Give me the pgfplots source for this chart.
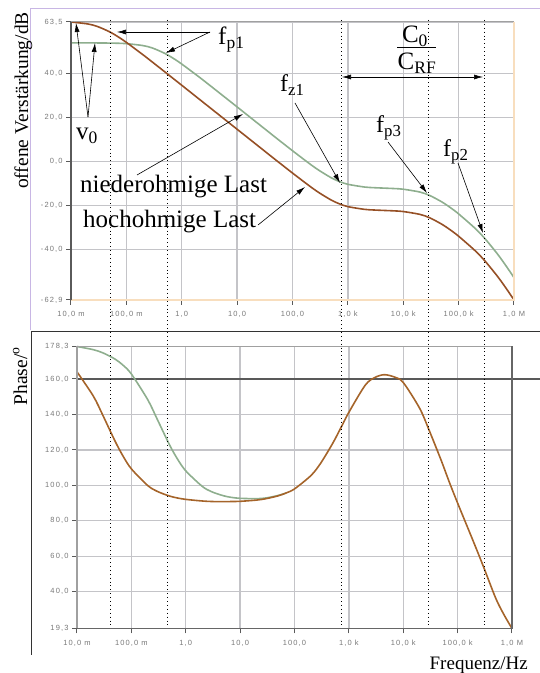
\documentclass[border=0pt]{standalone}
\usepackage{pgfplots}
\pgfplotsset{compat=1.18}
\usepackage{pgfplotstable}
\usetikzlibrary{arrows.meta}
\usepackage{fontspec}
\setmainfont{Liberation Serif}
\newfontfamily\tickfont[LetterSpace=15]{Liberation Sans}
\definecolor{cbrown}{RGB}{150,80,38}
\definecolor{cgreen}{RGB}{142,174,142}
\definecolor{cphase}{RGB}{165,100,42}
\definecolor{gridgray}{RGB}{196,196,200}
\definecolor{tickdark}{RGB}{90,90,90}
\definecolor{ticktext}{RGB}{120,120,120}
\definecolor{framepurple}{RGB}{200,182,228}
\definecolor{peach}{RGB}{248,222,190}
\definecolor{spinegray}{RGB}{160,160,160}

\pgfplotstableread{
f g
0.01 54.00
0.02 53.99
0.03 53.97
0.05 53.91
0.07 53.83
0.1 53.66
0.2 52.77
0.3 51.61
0.5 49.17
0.7 47.01
1 44.38
2 38.73
3 35.28
5 30.88
7 27.97
10 24.88
20 18.86
30 15.34
50 10.90
70 8.02
100 4.97
200 -0.80
300 -3.93
500 -7.31
700 -9.01
1000 -10.30
2000 -11.54
3000 -11.84
5000 -12.08
7000 -12.24
10000 -12.53
20000 -13.82
30000 -15.37
50000 -18.33
70000 -20.79
100000 -23.75
200000 -30.41
300000 -35.05
500000 -41.90
700000 -46.98
1000000 -52.70
}\gaingreen

\pgfplotstableread{
f g
0.01 63.50
0.02 62.62
0.03 61.46
0.05 59.02
0.07 56.86
0.1 54.23
0.2 48.58
0.3 45.13
0.5 40.73
0.7 37.82
1 34.73
2 28.71
3 25.19
5 20.75
7 17.83
10 14.73
20 8.71
30 5.19
50 0.75
70 -2.13
100 -5.18
200 -10.95
300 -14.08
500 -17.46
700 -19.16
1000 -20.45
2000 -21.69
3000 -21.99
5000 -22.23
7000 -22.39
10000 -22.68
20000 -23.97
30000 -25.52
50000 -28.48
70000 -30.94
100000 -33.90
200000 -40.56
300000 -45.20
500000 -52.05
700000 -57.13
1000000 -62.85
}\gainbrown

\pgfplotstableread{
f p
0.01 178.3
0.02 176.5
0.03 174.7
0.05 171.2
0.07 167.8
0.1 162.8
0.2 148.3
0.3 137.2
0.5 123.0
0.7 115.0
1 108.2
2 99.5
3 96.4
5 94.1
7 93.2
10 92.7
20 92.5
30 92.9
50 94.3
70 95.7
}\phasegreen

\pgfplotstableread{
f p
0.01 164.0
0.02 150.3
0.03 139.4
0.05 125.0
0.07 116.6
0.1 109.3
0.2 99.9
0.3 96.6
0.5 94.0
0.7 92.9
1 92.1
2 91.2
3 90.9
5 90.8
7 90.9
10 91.0
20 91.7
30 92.5
50 94.1
70 95.7
100 98.0
200 105.5
300 112.3
500 123.5
700 132.0
1000 141.2
2000 156.5
3000 160.8
4500 162.4
7000 161.0
10000 158.0
20000 143.5
30000 131.0
50000 114.0
70000 102.0
100000 90.0
200000 67.5
300000 54.0
500000 36.5
700000 27.5
1000000 19.3
}\phasebrown

\pgfplotsset{
  common/.style={
    scale only axis, anchor=south west,
    xmin=0.01, xmax=1e6,
    axis line style={draw=none},
    xtick={0.01,0.1,1,10,100,1000,10000,100000,1000000},
    xticklabels={{10,0 m},{100,0 m},{1,0},{10,0},{100,0},{1,0 k},{10,0 k},{100,0 k},{1,0 M}},
    xminorticks=false, yminorticks=false,
    tick align=outside, xtick pos=bottom, ytick pos=left,
    major tick length=5pt,
    tick style={draw=tickdark, line width=1pt},
    xmajorgrids=true, ymajorgrids=true,
    major grid style={draw=gridgray, line width=1.3pt},
    tick label style={font=\tickfont\fontsize{7.5}{9}\selectfont, text=ticktext},
    xticklabel style={yshift=-3pt},
    clip=false,
  }
}

\begin{document}
\begin{tikzpicture}[x=1pt,y=1pt]
\useasboundingbox (0,0) rectangle (540,673);
% panel frames
\draw[framepurple, line width=1pt] (540,664) -- (30,664) -- (30,343);
\draw[black!80, line width=1pt] (540,341) -- (31,341) -- (31,18);

% top axis: gain
\begin{axis}[xmode=log, common,
  at={(71pt,373pt)}, width=443pt, height=278pt,
  ymin=-62.9, ymax=63.5,
  ytick={-62.9,-40,-20,0,20,40,63.5},
  yticklabels={{-62,9},{-40,0},{-20,0},{0,0},{20,0},{40,0},{63,5}},
]
\addplot[cgreen, line width=1.6pt, smooth] table[x=f,y=g] {\gaingreen};
\addplot[cbrown, line width=1.6pt, smooth] table[x=f,y=g] {\gainbrown};
\draw[spinegray, line width=1pt] (rel axis cs:0,1) -- (rel axis cs:1,1);
\draw[peach, line width=1.4pt] (rel axis cs:1,1) -- (rel axis cs:1,0) -- (rel axis cs:0,0);
\draw[tickdark, line width=1.4pt] (rel axis cs:0,0) -- (rel axis cs:0,1);
\end{axis}

% bottom axis: phase
\begin{axis}[xmode=log, common,
  at={(77pt,44.5pt)}, width=435pt, height=282pt,
  ymin=19.3, ymax=178.3,
  ytick={19.3,40,60,80,100,120,140,160,178.3},
  yticklabels={{19,3},{40,0},{60,0},{80,0},{100,0},{120,0},{140,0},{160,0},{178,3}},
]
\draw[black!65, line width=1.2pt] (axis cs:0.01,160) -- (axis cs:1000000,160) -- ++(28pt,0pt);
\addplot[cgreen, line width=1.6pt, smooth] table[x=f,y=p] {\phasegreen};
\addplot[cphase, line width=1.6pt, smooth] table[x=f,y=p] {\phasebrown};
\draw[spinegray, line width=1.2pt] (rel axis cs:0,0) -- (rel axis cs:0,1) -- (rel axis cs:1,1);
\draw[black!60, line width=1.6pt] (rel axis cs:1,1) -- (rel axis cs:1,0) -- (rel axis cs:0,0);
\end{axis}

% dotted frequency markers
\foreach \xx in {110,167,341,428,484}
  \draw[black, line width=0.9pt, dash pattern=on 0.9pt off 3pt] (\xx,653) -- (\xx,45);

% annotations
\tikzset{arr/.style={black, line width=0.6pt, -{Latex[length=9pt,width=5pt]}}}
\node[anchor=base west, inner sep=0pt, font=\fontsize{25}{28}\selectfont] at (218,628) {f\textsubscript{p1}};
\draw[arr] (210,641) -- (117,641);
\draw[arr] (210,641) -- (166,620);

\node[anchor=base west, inner sep=0pt, font=\fontsize{25}{28}\selectfont] at (76,533) {v\textsubscript{0}};
\draw[arr] (88,556) -- (76,650);
\draw[arr] (88,556) -- (95,630);

\node[anchor=base west, inner sep=0pt, font=\fontsize{25}{28}\selectfont] at (80,480) {niederohmige Last};
\draw[arr] (137,498) -- (243,559);
\node[anchor=base west, inner sep=0pt, font=\fontsize{25}{28}\selectfont] at (83,445) {hochohmige Last};
\draw[arr] (258,448) -- (305,486);

\node[anchor=base west, inner sep=0pt, font=\fontsize{24}{28}\selectfont] at (280,581) {f\textsubscript{z1}};
\draw[arr] (295,570) -- (340,490);
\node[anchor=base west, inner sep=0pt, font=\fontsize{24}{28}\selectfont] at (376,540) {f\textsubscript{p3}};
\draw[arr] (388,531) -- (427,480);
\node[anchor=base west, inner sep=0pt, font=\fontsize{24}{28}\selectfont] at (443,516) {f\textsubscript{p2}};
\draw[arr] (458,510) -- (483,440);

\node[anchor=base, inner sep=0pt, font=\fontsize{25}{28}\selectfont] at (415,630) {C\textsubscript{0}};
\draw[black, line width=0.8pt] (397,626) -- (436,626);
\node[anchor=base, inner sep=0pt, font=\fontsize{25}{28}\selectfont] at (417,603) {C\textsubscript{RF}};
\draw[black, line width=0.6pt, {Latex[length=9pt,width=5pt]}-{Latex[length=9pt,width=5pt]}] (342,596) -- (483,596);

% axis titles
\node[rotate=90, anchor=base east, inner sep=0pt, font=\fontsize{19.5}{22}\selectfont] at (28,661) {offene Verstärkung/dB};
\node[rotate=90, anchor=base east, inner sep=0pt, font=\fontsize{19.5}{22}\selectfont] at (27,326) {Phase/\textsuperscript{o}};
\node[anchor=base east, inner sep=0pt, font=\fontsize{19}{22}\selectfont] at (528,3) {Frequenz/Hz};
\end{tikzpicture}
\end{document}
